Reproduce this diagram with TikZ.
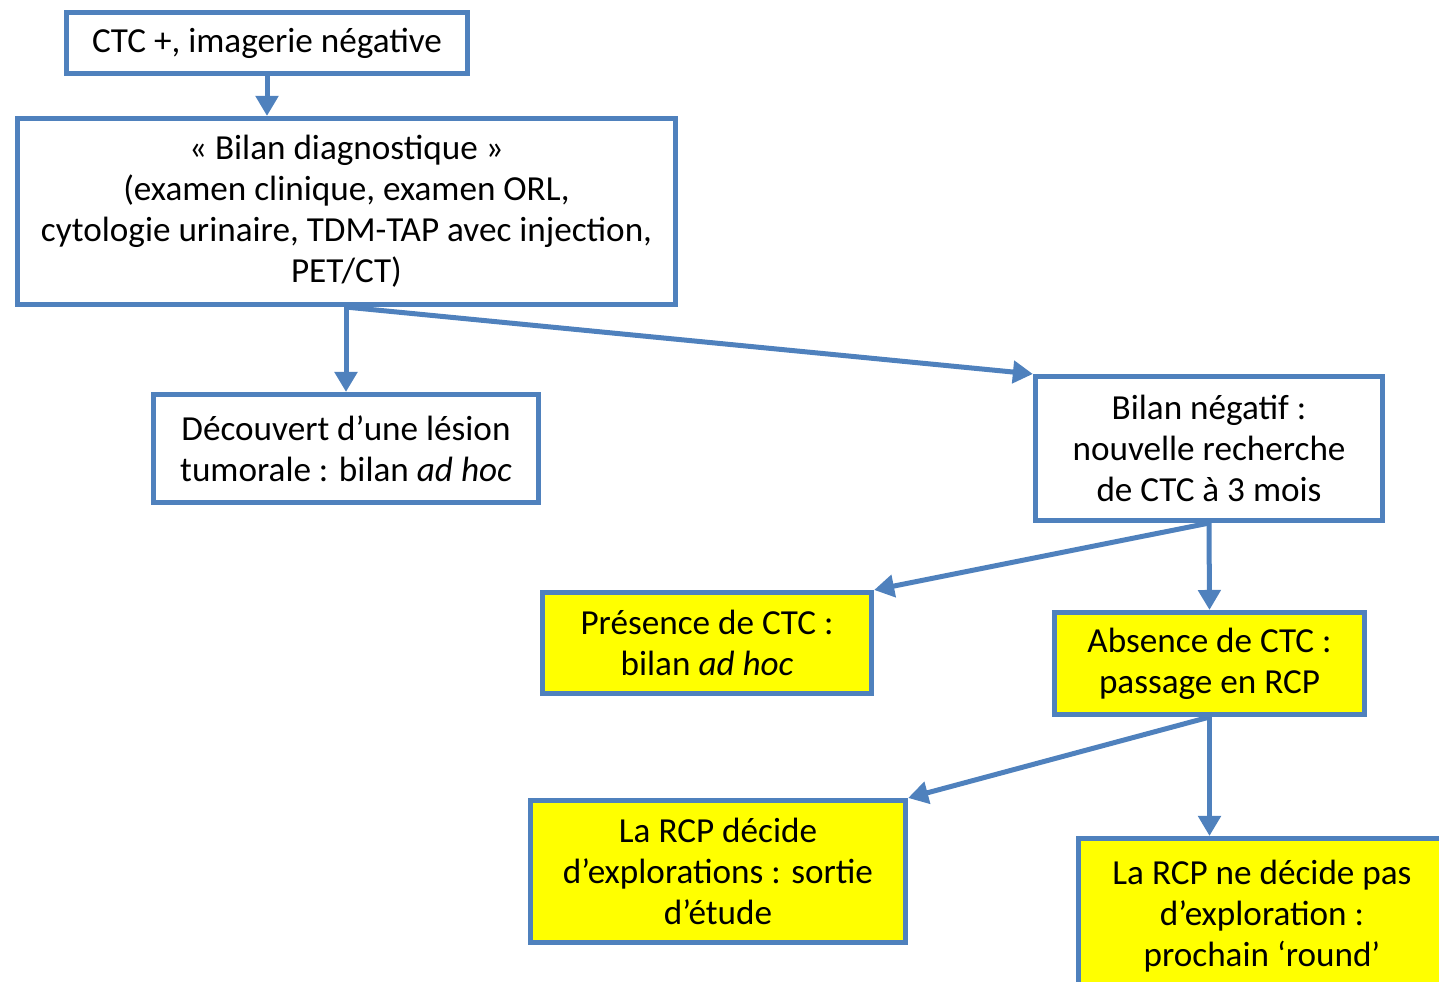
\documentclass[tikz,border=0pt]{standalone}
\usepackage{fontspec}
\setmainfont{Carlito}
\usetikzlibrary{arrows.meta}
\definecolor{boxblue}{RGB}{79,129,189}
\definecolor{boxyellow}{RGB}{255,255,0}
\begin{document}
\begin{tikzpicture}[x=0.01cm,y=-0.01cm,
  box/.style={draw=boxblue,line width=0.05cm,fill=white,align=center,inner sep=0pt,
    font=\fontsize{10}{11.7}\selectfont},
  ybox/.style={box,fill=boxyellow},
  link/.style={draw=boxblue,line width=0.05cm,-{Triangle[length=0.2cm,width=0.22cm]}}]
\useasboundingbox (0,0) rectangle (1439,981);
\node[box,minimum width=4.01cm,minimum height=0.61cm] (start) at (267,43) {CTC +, imagerie négative};
\node[box,minimum width=6.58cm,minimum height=1.86cm] (bilan) at (346.5,211.5) {« Bilan diagnostique »\\(examen clinique, examen ORL,\\cytologie urinaire, TDM-TAP avec injection,\\PET/CT)};
\node[box,minimum width=3.85cm,minimum height=1.08cm] (lesion) at (346,448.5) {Découvert d’une lésion\\tumorale : bilan \textit{ad hoc}};
\node[box,minimum width=3.47cm,minimum height=1.44cm] (negatif) at (1209,448.5) {Bilan négatif :\\nouvelle recherche\\de CTC à 3 mois};
\node[ybox,minimum width=3.29cm,minimum height=1.01cm] (presence) at (707,643) {Présence de CTC :\\bilan \textit{ad hoc}};
\node[ybox,minimum width=3.10cm,minimum height=1.02cm] (absence) at (1209.5,663.5) {Absence de CTC :\\passage en RCP};
\node[ybox,minimum width=3.75cm,minimum height=1.42cm] (sortie) at (718,871.5) {La RCP décide\\d’explorations : sortie\\d’étude};
\node[ybox,minimum width=3.67cm,minimum height=1.55cm] (round) at (1262,916) {La RCP ne décide pas\\d’exploration :\\prochain ‘round’};
\draw[link] (start.south) -- (start.south |- bilan.north);
\draw[link] (lesion.north |- bilan.south) -- (lesion.north);
\draw[link] (lesion.north |- bilan.south) -- (negatif.north west);
\draw[link] (negatif.south) -- (presence.north east);
\draw[link] (negatif.south) -- (absence.north);
\draw[link] (absence.south) -- (sortie.north east);
\draw[link] (absence.south) -- (absence.south |- round.north);
\end{tikzpicture}
\end{document}
